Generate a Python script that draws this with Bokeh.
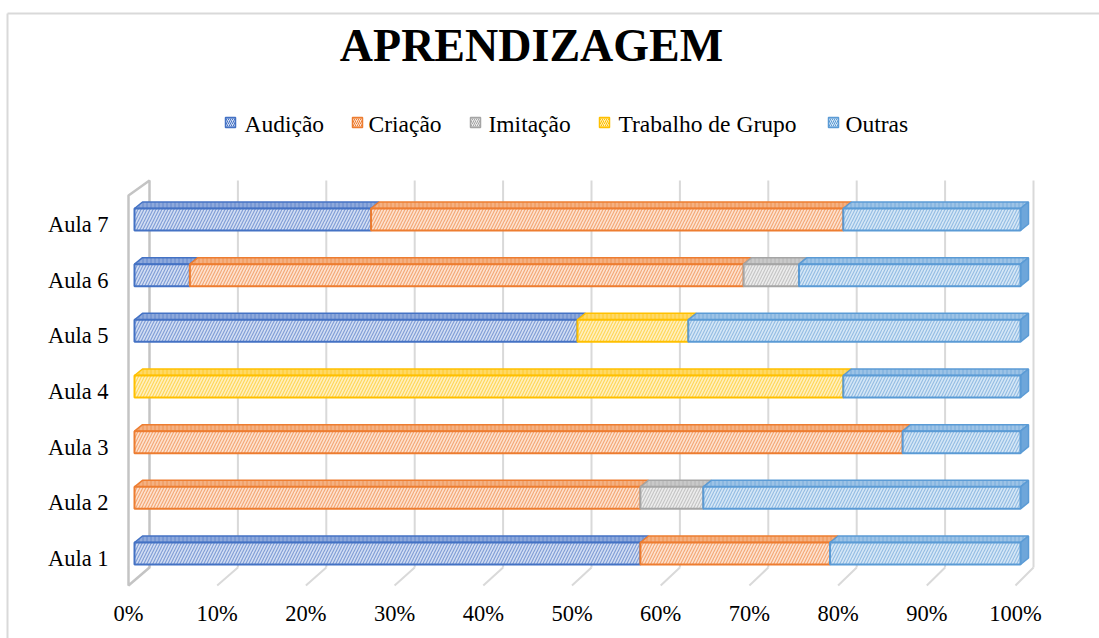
from bokeh.plotting import figure
from bokeh.models import Range1d, ColumnDataSource
from bokeh.embed import file_html
from bokeh.resources import INLINE
from bokeh.core.properties import value

# ---------------- data ----------------
categories = ["Aula 1", "Aula 2", "Aula 3", "Aula 4", "Aula 5", "Aula 6", "Aula 7"]
series_names = ["Audição", "Criação", "Imitação", "Trabalho de Grupo", "Outras"]
audicao = [57.1, 0.0, 0.0, 0.0, 50.0, 6.25, 26.7]
criacao = [21.4, 57.1, 86.7, 0.0, 0.0, 62.5, 53.3]
imitacao = [0.0, 7.1, 0.0, 0.0, 0.0, 6.25, 0.0]
trabalho = [0.0, 0.0, 0.0, 80.0, 12.5, 0.0, 0.0]
outras = [21.5, 35.8, 13.3, 20.0, 37.5, 25.0, 20.0]
x_ticks = [0, 10, 20, 30, 40, 50, 60, 70, 80, 90, 100]
tick_labels = ["0%", "10%", "20%", "30%", "40%", "50%", "60%", "70%", "80%", "90%", "100%"]
title_text = "APRENDIZAGEM"

series = [audicao, criacao, imitacao, trabalho, outras]

# ---------------- styles ----------------
line_cols = ["#4472C4", "#ED7D31", "#A5A5A5", "#FFC000", "#5B9BD5"]
front_fill = ["#d3def3", "#fde2d0", "#ececec", "#fff0c0", "#d6e7f6"]
hatch_cols = ["#6d8ed0", "#f19a60", "#bcbcbc", "#ffcf40", "#84b3df"]
top_fill = ["#8ea9db", "#f4b183", "#c9c9c9", "#ffd966", "#9dc3e6"]
side_fill = ["#5f83c8", "#e8864a", "#a8a8a8", "#f0b800", "#6ea6da"]
FONT = value("Liberation Serif")

W, H = 1099, 638
X0, XS = 134.0, 8.86     # px of 0% on bar front face, px per percent
Y0, YS = 553.0, 55.67    # px of row 0 centre, px per row


def dx(ix):
    return (ix - X0) / XS


def dy(iy):
    return (Y0 - iy) / YS


BH = 11.0 / YS          # half bar height
DX = 8.0 / XS           # depth offset x
DY = 6.5 / YS           # depth offset y

p = figure(width=W, height=H, output_backend="svg", toolbar_location=None,
           x_range=Range1d(dx(0), dx(W)), y_range=Range1d(dy(H), dy(0)),
           min_border=0, outline_line_color=None)
p.axis.visible = False
p.grid.visible = False
p.background_fill_color = "white"

# chart border (top & left)
p.segment(x0=[dx(7)], y0=[dy(13)], x1=[dx(W)], y1=[dy(13)], line_color="#d9d9d9", line_width=2)
p.segment(x0=[dx(7)], y0=[dy(13)], x1=[dx(7)], y1=[dy(H)], line_color="#d9d9d9", line_width=2)

# ---------------- 3D grid ----------------
back_x = [dx(149 + 8.84 * t) for t in x_ticks]
front_x = [dx(128 + 8.87 * t) for t in x_ticks]
y_top, y_back_floor, y_front_floor = dy(180), dy(567), dy(585)
p.segment(x0=back_x[1:], y0=[y_back_floor] * 10, x1=back_x[1:], y1=[y_top] * 10,
          line_color="#d9d9d9", line_width=2)
p.segment(x0=back_x[1:], y0=[y_back_floor] * 10, x1=front_x[1:], y1=[y_front_floor] * 10,
          line_color="#d9d9d9", line_width=2)
# left wall
p.patch(x=[front_x[0], front_x[0], back_x[0], back_x[0]],
        y=[y_front_floor, dy(195), y_top, y_back_floor],
        fill_color=None, line_color="#c4c4c4", line_width=2.5)

# ---------------- bars ----------------
rows = list(range(len(categories)))
fronts = [dict(l=[], r=[], b=[], t=[]) for _ in series]
tops = [dict(xs=[], ys=[]) for _ in series]
sides = [dict(xs=[], ys=[]) for _ in series]
for i in rows:
    left = 0.0
    last = None
    for s, vals in enumerate(series):
        v = vals[i]
        if v <= 0:
            continue
        r = left + v
        fronts[s]["l"].append(left)
        fronts[s]["r"].append(r)
        fronts[s]["b"].append(i - BH)
        fronts[s]["t"].append(i + BH)
        tops[s]["xs"].append([left, r, r + DX, left + DX])
        tops[s]["ys"].append([i + BH, i + BH, i + BH + DY, i + BH + DY])
        left = r
        last = s
    if last is not None:
        sides[last]["xs"].append([left, left + DX, left + DX, left])
        sides[last]["ys"].append([i - BH, i - BH + DY, i + BH + DY, i + BH])

for s in range(len(series)):
    if tops[s]["xs"]:
        p.patches(xs="xs", ys="ys", source=ColumnDataSource(tops[s]),
                  fill_color=top_fill[s], line_color=line_cols[s], line_width=1.5,
                  hatch_pattern="|", hatch_color=line_cols[s], hatch_scale=4,
                  hatch_weight=1, hatch_alpha=0.6)
    if sides[s]["xs"]:
        p.patches(xs="xs", ys="ys", source=ColumnDataSource(sides[s]),
                  fill_color=side_fill[s], line_color=line_cols[s], line_width=1.5)
    if fronts[s]["l"]:
        p.quad(left="l", right="r", bottom="b", top="t", source=ColumnDataSource(fronts[s]),
               fill_color=front_fill[s], line_color=line_cols[s], line_width=2,
               hatch_pattern="/", hatch_color=hatch_cols[s], hatch_scale=6,
               hatch_weight=1.2, hatch_alpha=0.8)

# ---------------- texts ----------------
# category labels
p.text(x=[dx(108)] * len(rows), y=[r - 5.0 / YS for r in rows], text=categories,
       text_font=FONT, text_font_size="22.5px", text_color="#000000",
       text_align="right", text_baseline="alphabetic")
# tick labels
p.text(x=front_x, y=[dy(613)] * len(x_ticks), text=tick_labels,
       text_font=FONT, text_font_size="22.5px", text_color="#000000",
       text_align="center", text_baseline="alphabetic")
# title
p.text(x=[dx(531)], y=[dy(45)], text=[title_text], text_font=FONT,
       text_font_size="46px", text_font_style="bold", text_color="#000000",
       text_align="center", text_baseline="alphabetic")

# legend
leg_marker_x = [225, 352, 470, 599, 828]
leg_text_x = [244, 368, 488, 618, 845]
for s, name in enumerate(series_names):
    mx = leg_marker_x[s]
    p.quad(left=[dx(mx)], right=[dx(mx + 10)], bottom=[dy(127)], top=[dy(117)],
           fill_color=front_fill[s], line_color=line_cols[s], line_width=1.5,
           hatch_pattern="/", hatch_color=line_cols[s], hatch_scale=4, hatch_weight=1)
p.text(x=[dx(v) for v in leg_text_x], y=[dy(123)] * len(series_names), text=series_names,
       text_font=FONT, text_font_size="23.5px", text_color="#000000",
       text_align="left", text_baseline="alphabetic")

open("out.html", "w").write(file_html(p, INLINE))
